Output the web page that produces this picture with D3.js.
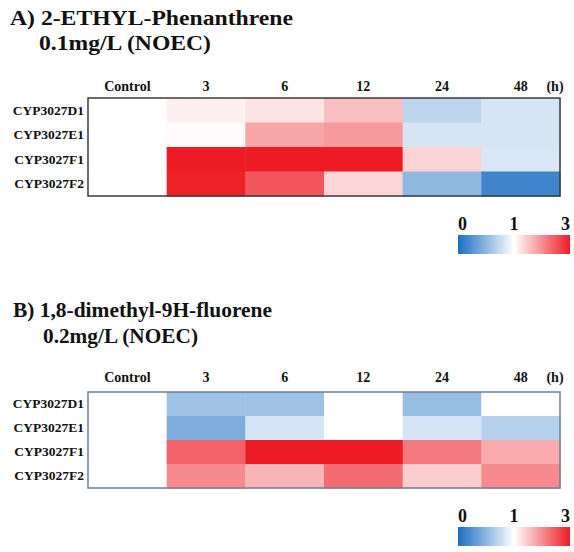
<!DOCTYPE html>
<html><head><meta charset="utf-8">
<script src="https://cdn.jsdelivr.net/npm/d3@7"></script>
<style>body{margin:0;background:#fff;} svg{display:block;} text{font-family:"Liberation Serif","Times New Roman",serif;font-weight:bold;}</style>
</head><body>
<svg id="chart" width="574" height="552"></svg>
<script>
// ---- data ----
const timepoints = ["Control", "3", "6", "12", "24", "48"];
const genes = ["CYP3027D1", "CYP3027E1", "CYP3027F1", "CYP3027F2"];
const titleA = ["A) 2-ETHYL-Phenanthrene", "0.1mg/L (NOEC)"];
const titleB = ["B) 1,8-dimethyl-9H-fluorene", "0.2mg/L (NOEC)"];
const unitLabel = "(h)";
const legendTicks = [0, 1, 3];
// fold-change values (rows = genes, cols = timepoints)
const valuesA = [
  [1, 1.13, 1.24, 1.56, 0.71, 0.82],
  [1, 1.04, 1.79, 1.89, 0.82, 0.82],
  [1, 3.0, 3.0, 3.0, 1.38, 0.83],
  [1, 2.95, 2.5, 1.37, 0.51, 0.16]
];
const valuesB = [
  [1, 0.58, 0.58, 1.0, 0.55, 1.0],
  [1, 0.44, 0.82, 1.0, 0.82, 0.68],
  [1, 2.38, 3.0, 3.0, 2.17, 1.75],
  [1, 2.03, 1.66, 2.3, 1.44, 2.03]
];

const svg = d3.select("#chart");
const color = d3.scaleLinear().domain([0, 1, 3])
  .range(["#1b6ec2", "#ffffff", "#ed1c24"]).clamp(true);
const FONT = '"Liberation Serif", "Times New Roman", serif';

function styleText(sel, size) {
  sel.style("font-family", FONT).style("font-weight", "bold")
    .style("font-size", size + "px").attr("fill", "#111");
}

function drawPanel(cfg) {
  const g = svg.append("g");
  cfg.title.forEach((t, i) => {
    const tt = g.append("text").attr("x", cfg.titleX[i]).attr("y", cfg.titleY[i])
      .attr("textLength", cfg.titleLen[i]).attr("lengthAdjust", "spacingAndGlyphs").text(t);
    styleText(tt, 21);
  });
  const x = d3.scaleBand().domain(timepoints).range([88, 560]);
  const y = d3.scaleBand().domain(genes).range([cfg.top, cfg.bottom]);
  cfg.values.forEach((row, ri) => {
    g.selectAll(null).data(row).enter().append("rect")
      .attr("x", (d, ci) => x(timepoints[ci]))
      .attr("y", y(genes[ri]))
      .attr("width", x.bandwidth() + 0.5)
      .attr("height", y.bandwidth() + 0.5)
      .attr("fill", d => color(d));
  });
  g.append("rect").attr("x", 88).attr("y", cfg.top).attr("width", 472)
    .attr("height", cfg.bottom - cfg.top).attr("fill", "none")
    .attr("stroke", cfg.border).attr("stroke-width", 1.5);
  // column headers
  const ax = g.append("g").attr("transform", `translate(0,${cfg.headerY})`)
    .call(d3.axisTop(x).tickSize(0));
  ax.attr("font-family", null).attr("font-size", null);
  ax.select(".domain").remove();
  styleText(ax.selectAll("text").attr("dy", 0).attr("y", 0), 14);
  styleText(g.append("text").attr("x", 555).attr("y", cfg.headerY)
    .attr("text-anchor", "middle").text(unitLabel), 14);
  // row labels
  const ay = g.append("g").attr("transform", "translate(84,0)")
    .call(d3.axisLeft(y).tickSize(0).tickPadding(0));
  ay.attr("font-family", null).attr("font-size", null);
  ay.select(".domain").remove();
  styleText(ay.selectAll("text").attr("x", 0), 13.5);
  // legend
  const lx = d3.scaleLinear().domain(legendTicks).range([458, 514, 570]);
  const gid = "grad" + cfg.id;
  const grad = svg.append("defs").append("linearGradient").attr("id", gid)
    .attr("x1", "0%").attr("x2", "100%");
  d3.range(0, 3.0001, 0.1).forEach(v => {
    grad.append("stop").attr("offset", ((lx(v) - 458) / 112 * 100) + "%")
      .attr("stop-color", color(v));
  });
  g.append("rect").attr("x", 458).attr("y", cfg.legY).attr("width", 112)
    .attr("height", 19).attr("fill", `url(#${gid})`);
  const lt = g.selectAll(null).data(legendTicks).enter().append("text")
    .attr("x", d => lx(d)).attr("y", cfg.legY - 5)
    .attr("text-anchor", (d, i) => i === 0 ? "start" : (i === 2 ? "end" : "middle"))
    .text(d => d);
  styleText(lt, 18);
}

drawPanel({id: "A", title: titleA, titleX: [10, 39], titleY: [25, 50], titleLen: [283, 172],
  values: valuesA, top: 98, bottom: 196, headerY: 91, legY: 235, border: "#3a3a3a"});
drawPanel({id: "B", title: titleB, titleX: [13, 43], titleY: [317, 343], titleLen: [259, 155],
  values: valuesB, top: 392, bottom: 488, headerY: 382, legY: 527, border: "#6b7f96"});
</script>
</body></html>
